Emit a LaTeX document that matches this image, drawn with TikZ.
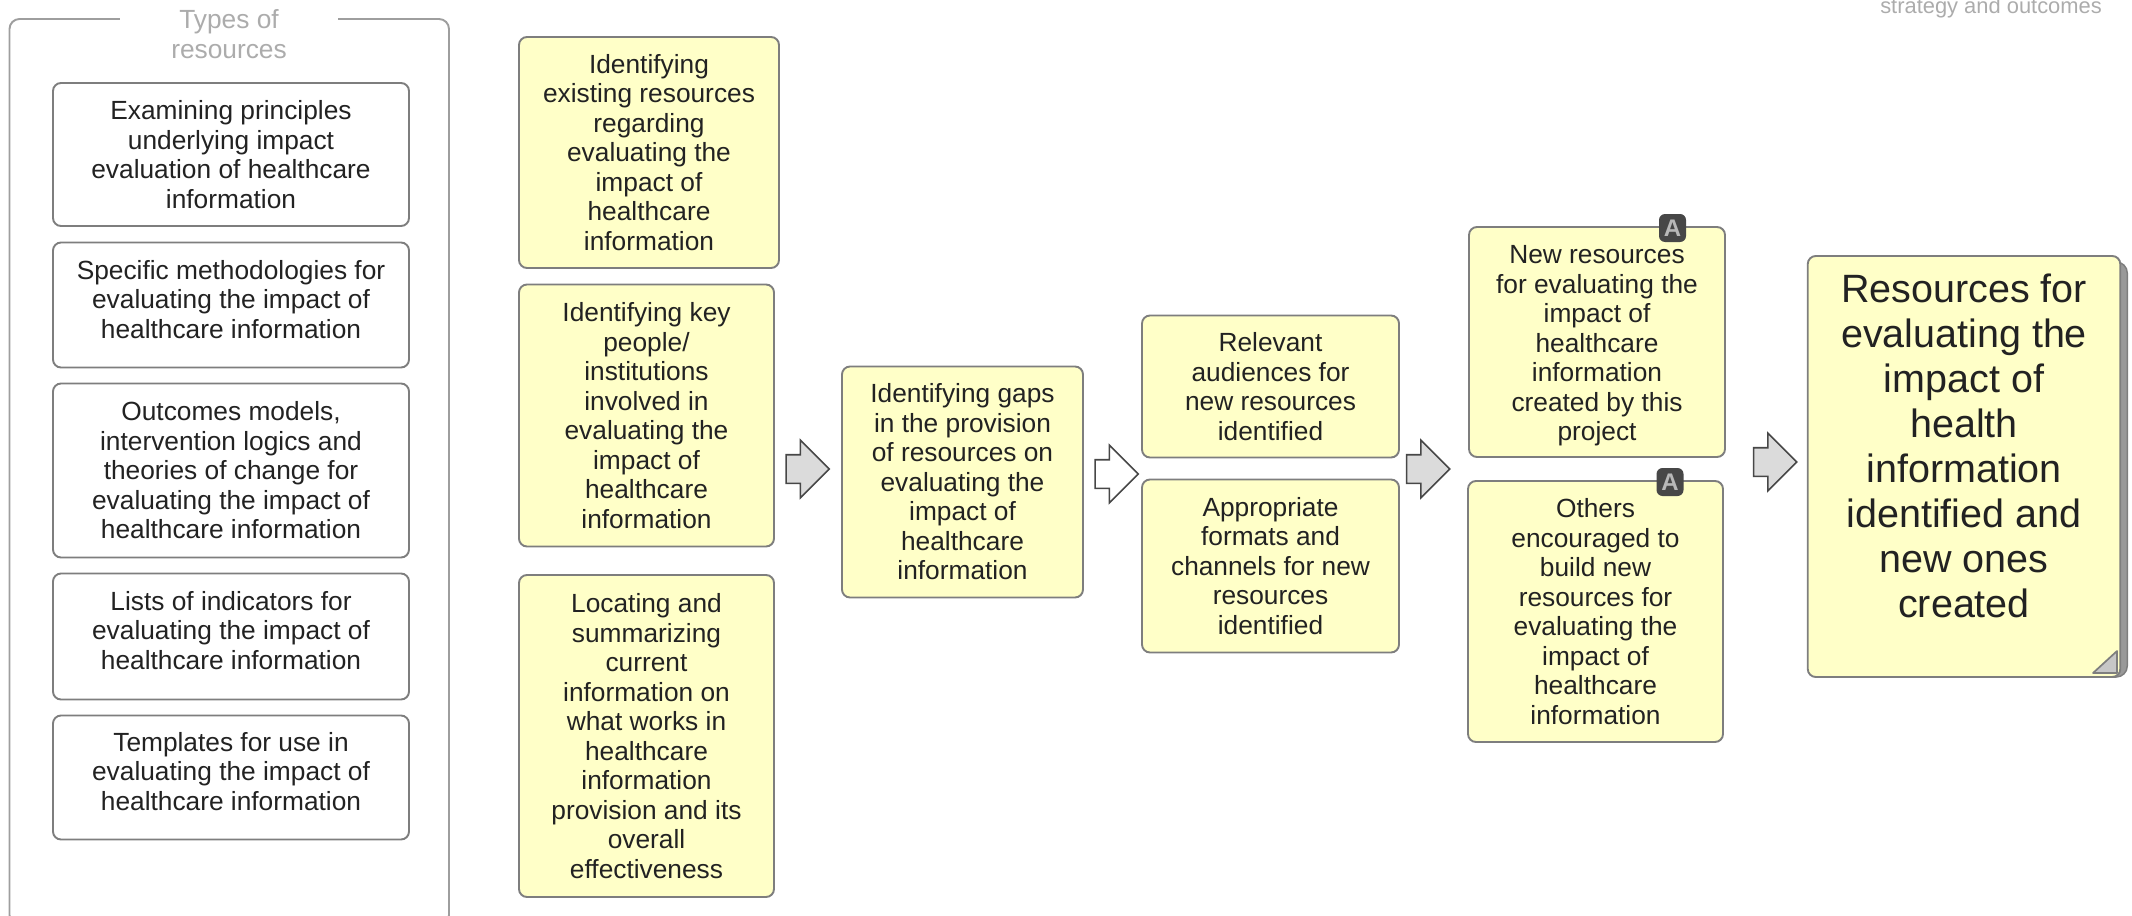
\documentclass[tikz,border=0pt]{standalone}
\usepackage{fontspec}
\setmainfont{Liberation Sans}
\usetikzlibrary{shapes.arrows}
\definecolor{noteyellow}{HTML}{FFFFC8}
\definecolor{boxedge}{HTML}{7E7E7E}
\definecolor{inktext}{HTML}{222222}
\definecolor{palegrey}{HTML}{ACACAC}
\tikzset{
  plainbox/.style={draw=boxedge,line width=1.9pt,rounded corners=8pt,fill=white,inner sep=0pt,align=center,text=inktext,font=\fontsize{26.3}{29.5}\selectfont},
  notebox/.style={plainbox,fill=noteyellow},
  boxtext/.style={inner sep=0pt,align=center,text=inktext,font=\fontsize{26.3}{29.5}\selectfont},
  bigtext/.style={boxtext,font=\fontsize{39.5}{44.9}\selectfont},
  greyarrow/.style={single arrow,draw=black!72,line width=1.6pt,fill=black!14,minimum height=43pt,minimum width=56pt,single arrow head extend=14.5pt,inner xsep=0pt,inner ysep=13.5pt,outer sep=0pt},
  whitearrow/.style={greyarrow,fill=white},
  badge/.style={rounded corners=6pt,fill=black!72,text=black!28,minimum width=27pt,minimum height=28pt,inner sep=0pt,font=\fontsize{24}{24}\selectfont\bfseries},
}
\begin{document}
\begin{tikzpicture}[x=1pt,y=-1pt]
\clip (0,0) rectangle (2132,915);
\node[draw=black!38,line width=1.9pt,rounded corners=10pt,minimum width=439.5pt,minimum height=906pt,inner sep=0pt] (frame) at (229.25,472) {};
\node[fill=white,text=palegrey,align=center,minimum width=218pt,inner sep=0pt,font=\fontsize{26.3}{30}\selectfont] (title) at (229,34) {Types of\\resources};
\node[text=palegrey,inner sep=0pt,anchor=base,font=\fontsize{21.9}{25}\selectfont] (corner) at (1991,13.5) {strategy and outcomes};

\node[plainbox,minimum width=356pt,minimum height=143pt] (b1) at (231,154.5) {Examining principles\\underlying impact\\evaluation of healthcare\\information};
\node[plainbox,minimum width=356pt,minimum height=125pt] (b2) at (231,305) {};
\node[boxtext] (b2t) at (231,299.5) {Specific methodologies for\\evaluating the impact of\\healthcare information};
\node[plainbox,minimum width=356pt,minimum height=174pt] (b3) at (231,470.5) {Outcomes models,\\intervention logics and\\theories of change for\\evaluating the impact of\\healthcare information};
\node[plainbox,minimum width=356pt,minimum height=126pt] (b4) at (231,636.5) {};
\node[boxtext] (b4t) at (231,630.5) {Lists of indicators for\\evaluating the impact of\\healthcare information};
\node[plainbox,minimum width=356pt,minimum height=124pt] (b5) at (231,777.5) {};
\node[boxtext] (b5t) at (231,771.5) {Templates for use in\\evaluating the impact of\\healthcare information};

\node[notebox,minimum width=260pt,minimum height=231pt] (y1) at (649,152.5) {Identifying\\existing resources\\regarding\\evaluating the\\impact of\\healthcare\\information};
\node[notebox,minimum width=255pt,minimum height=262pt] (y2) at (646.5,415.5) {Identifying key\\people/\\institutions\\involved in\\evaluating the\\impact of\\healthcare\\information};
\node[notebox,minimum width=255pt,minimum height=322pt] (y3) at (646.5,736) {Locating and\\summarizing\\current\\information on\\what works in\\healthcare\\information\\provision and its\\overall\\effectiveness};

\node[greyarrow] (a1) at (800.5,469) {};
\node[notebox,minimum width=241pt,minimum height=231pt] (gap) at (962.5,482) {Identifying gaps\\in the provision\\of resources on\\evaluating the\\impact of\\healthcare\\information};
\node[whitearrow] (a2) at (1109.5,474) {};

\node[notebox,minimum width=257pt,minimum height=142pt] (rel) at (1270.5,386.5) {Relevant\\audiences for\\new resources\\identified};
\node[notebox,minimum width=257pt,minimum height=173pt] (app) at (1270.5,566) {Appropriate\\formats and\\channels for new\\resources\\identified};
\node[greyarrow] (a3) at (1421,469) {};

\node[notebox,minimum width=256pt,minimum height=230pt] (new) at (1597,342) {};
\node[boxtext] (newt) at (1597,346) {New resources\\for evaluating the\hspace*{8pt}\\impact of\\healthcare\\information\\created by this\\project};
\node[notebox,minimum width=255pt,minimum height=261pt] (oth) at (1595.5,611.5) {Others\\encouraged to\\build new\\resources for\\evaluating the\\impact of\\healthcare\\information};
\node[badge] (ba) at (1672.5,228) {A};
\node[badge] (bb) at (1670,482) {A};
\node[greyarrow] (a4) at (1768,462) {};

\node[draw=boxedge,fill=black!40,line width=1.5pt,rounded corners=11pt,minimum width=312.5pt,minimum height=415pt,inner sep=0pt] (sheet) at (1971,469.5) {};
\node[notebox,minimum width=312.5pt,minimum height=421pt] (final) at (1964,466.5) {};
\node[bigtext] (finalt) at (1964,446) {Resources for\\evaluating the\\impact of\\health\\information\\identified and\\new ones\\created};
\coordinate (foldtip) at (2117,651);
\fill[black!22,draw=boxedge,line width=1.7pt,line join=round] (foldtip) -- ++(0,22) -- ++(-24,0) -- cycle;
\end{tikzpicture}
\end{document}
